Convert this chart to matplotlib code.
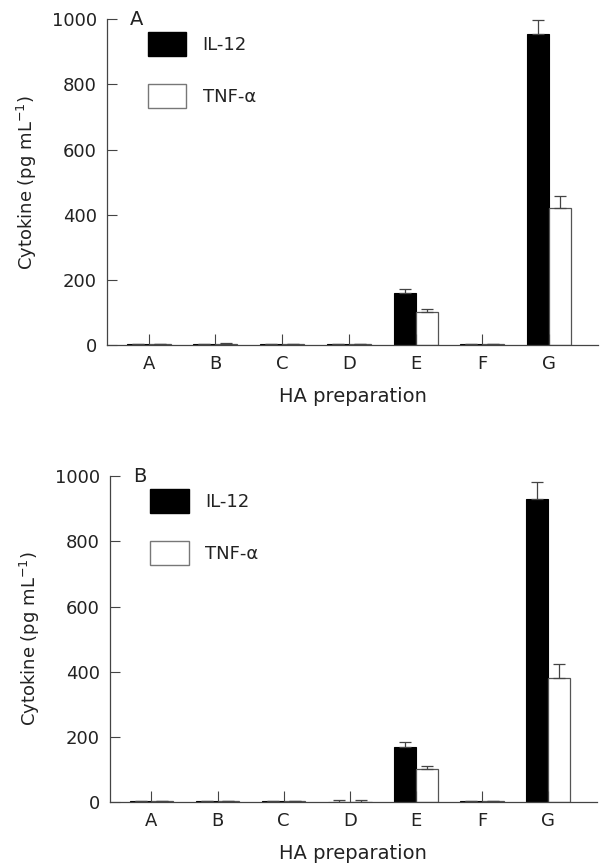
import matplotlib
matplotlib.use("Agg")
import matplotlib.pyplot as plt
import numpy as np
from matplotlib.patches import Patch

plt.rcParams["font.family"] = ["DejaVu Sans"]

categorias = ["A", "B", "C", "D", "E", "F", "G"]

# Painel A
il12_a = [3, 3, 3, 3, 159, 3, 955]
il12_a_err = [1, 1, 1, 1, 14, 1, 43]
tnf_a = [3, 3, 3, 3, 100, 3, 420]
tnf_a_err = [1, 2, 1, 1, 12, 1, 37]

# Painel B
il12_b = [3, 3, 3, 1, 168, 3, 931]
il12_b_err = [1, 1, 1, 4, 17, 1, 52]
tnf_b = [3, 3, 3, 1, 101, 3, 380]
tnf_b_err = [1, 1, 1, 4, 10, 1, 45]

paineis = [
    ("A", il12_a, il12_a_err, tnf_a, tnf_a_err, [0.178, 0.6007, 0.819, 0.377]),
    ("B", il12_b, il12_b_err, tnf_b, tnf_b_err, [0.183, 0.0718, 0.812, 0.377]),
]

FS = 13
COR_EIXO = "#444444"
COR_TEXTO = "#222222"

fig = plt.figure(figsize=(6, 8.64), dpi=100, facecolor="white")

x = np.arange(len(categorias))
w = 0.33
for letra, il12, il12_err, tnf, tnf_err, rect in paineis:
    ax = fig.add_axes(rect)
    ax.bar(x - w / 2, il12, w, color="black", edgecolor="black", linewidth=0.8,
           yerr=[np.zeros(len(il12)), il12_err], ecolor="#444444",
           error_kw=dict(elinewidth=0.9, capsize=4, capthick=0.9))
    ax.bar(x + w / 2, tnf, w, color="white", edgecolor="#555555", linewidth=0.9,
           yerr=[np.zeros(len(tnf)), tnf_err], ecolor="#444444",
           error_kw=dict(elinewidth=0.9, capsize=4, capthick=0.9))

    ax.set_xlim(-0.63, 6.74)
    ax.set_ylim(0, 1000)
    ax.set_yticks([0, 200, 400, 600, 800, 1000])
    ax.set_xticks(x)
    ax.set_xticklabels(categorias)
    ax.tick_params(axis="x", direction="in", length=8, width=0.8,
                   color=COR_EIXO, labelsize=FS, pad=7, labelcolor=COR_TEXTO)
    ax.tick_params(axis="y", direction="in", length=7, width=0.8,
                   color=COR_EIXO, labelsize=FS, pad=7, labelcolor=COR_TEXTO)
    for lado in ("top", "right"):
        ax.spines[lado].set_visible(False)
    for lado in ("left", "bottom"):
        ax.spines[lado].set_color(COR_EIXO)
        ax.spines[lado].set_linewidth(0.9)
    ax.set_ylabel("Cytokine (pg mL$^{-1}$)", fontsize=FS, labelpad=9,
                  color=COR_TEXTO)
    ax.set_xlabel("HA preparation", fontsize=14, labelpad=10, color=COR_TEXTO)
    ax.text(0.047, 1.0, letra, transform=ax.transAxes, fontsize=14,
            ha="left", va="center", color=COR_TEXTO)

    handles = [
        Patch(facecolor="black", edgecolor="black", label="IL-12"),
        Patch(facecolor="white", edgecolor="#777777", label="TNF-α"),
    ]
    leg = ax.legend(handles=handles, loc="upper left",
                    bbox_to_anchor=(0.083, 0.962), frameon=False, fontsize=FS,
                    handlelength=2.15, handleheight=1.7, labelspacing=1.55,
                    handletextpad=0.9, borderaxespad=0, borderpad=0)
    for t in leg.get_texts():
        t.set_color(COR_TEXTO)

fig.savefig("out.png", dpi=100, facecolor="white")
